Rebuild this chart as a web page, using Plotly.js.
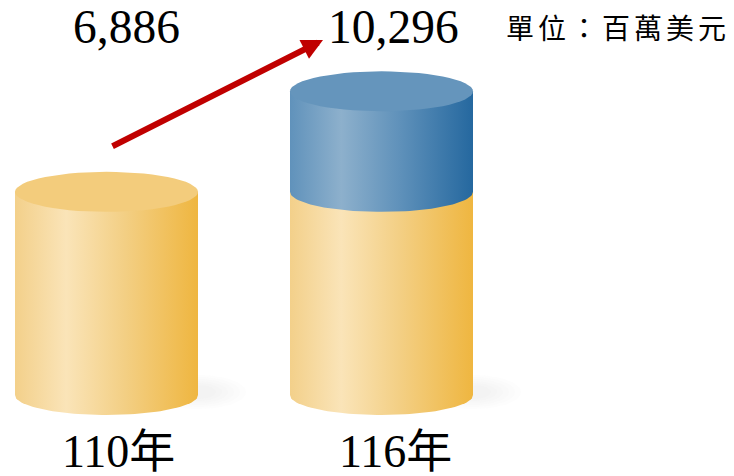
<!DOCTYPE html>
<html>
<head>
<meta charset="utf-8">
<script src="https://cdn.plot.ly/plotly-3.0.1.min.js"></script>
<style>
html,body{margin:0;padding:0;background:#fff}
g.annotation[data-index="4"] text{letter-spacing:4px}
</style>
</head>
<body>
<div id="chart" style="width:734px;height:476px"></div>
<script>
// Data
const categories = ['110年', '116年'];
const existing = [6886, 6886];
const added = [0, 3410];
const totals = [6886, 10296];
const unitLabel = '單位：百萬美元';

// Layout helpers (pixel-aligned axes)
const W = 734, H = 476, baseY = 395, pxPerUnit = 0.0295;
const yAt = px => (baseY - px) / pxPerUnit;
const ry = 20 / pxPerUnit, rx = 91.5;
const centers = [106.5, 381.5];
const labelX = [118, 395];
const labelY = [451, 451];
const SERIF = '"Liberation Serif","Noto Sans CJK TC",serif';

const yellowScale = [[0,'#F3D08A'],[0.28,'#FAE4B8'],[0.6,'#F3CF84'],[1,'#EFB640']];
const blueScale = [[0,'#6092BB'],[0.28,'#8DB0CC'],[0.6,'#5F91BA'],[1,'#25689F']];

function arc(cx, cyVal, fromDeg, toDeg) {
  const xs = [], ys = [];
  const n = 60;
  for (let i = 0; i <= n; i++) {
    const t = (fromDeg + (toDeg - fromDeg) * i / n) * Math.PI / 180;
    xs.push(cx + rx * Math.cos(t));
    ys.push(cyVal + ry * Math.sin(t));
  }
  return [xs, ys];
}
function body(cx, v0, v1, scale) {
  const [xs, ys] = arc(cx, v0, 180, 360);
  xs.push(cx + rx, cx - rx, cx - rx);
  ys.push(v1, v1, v0);
  return {x: xs, y: ys, mode: 'lines', fill: 'toself', line: {width: 0},
    fillgradient: {type: 'horizontal', colorscale: scale}, hoverinfo: 'skip', showlegend: false};
}
function cap(cx, v, color) {
  const [xs, ys] = arc(cx, v, 0, 360);
  return {x: xs, y: ys, mode: 'lines', fill: 'toself', fillcolor: color, line: {width: 0},
    hoverinfo: 'skip', showlegend: false};
}
// Soft ground shadow: nested faint ellipses to the right of each cylinder
function shadows(cx) {
  const out = [];
  [[48, 17], [42, 15], [36, 13], [30, 11], [24, 9], [18, 7]].forEach(([srx, srPx]) => {
    const sx = cx + rx, sry = srPx / pxPerUnit, cy = yAt(392);
    const xs = [], ys = [];
    for (let i = 0; i <= 60; i++) {
      const t = i / 60 * 2 * Math.PI;
      xs.push(sx + srx * Math.cos(t));
      ys.push(cy + sry * Math.sin(t));
    }
    out.push({x: xs, y: ys, mode: 'lines', fill: 'toself', fillcolor: 'rgba(130,130,130,0.018)', line: {width: 0},
      hoverinfo: 'skip', showlegend: false});
  });
  return out;
}

const traces = [];
categories.forEach((c, i) => {
  traces.push(...shadows(centers[i]));
  traces.push(body(centers[i], 0, existing[i], yellowScale));
  if (added[i] > 0) {
    traces.push(body(centers[i], existing[i], existing[i] + added[i], blueScale));
    traces.push(cap(centers[i], existing[i] + added[i], '#6595BC'));
  } else {
    traces.push(cap(centers[i], existing[i], '#F3CC7C'));
  }
});

const annotations = [];
categories.forEach((c, i) => {
  annotations.push({x: labelX[i], y: yAt(labelY[i]), xref: 'x', yref: 'y', text: c, showarrow: false,
    font: {family: SERIF, size: 46, color: '#000'}, xanchor: 'center', yanchor: 'middle'});
});
[126.5, 393.5].forEach((x, i) => {
  annotations.push({x: x, y: yAt(27), xref: 'x', yref: 'y', text: totals[i].toLocaleString('en-US'), showarrow: false,
    font: {family: SERIF, size: 47.5, color: '#000'}, xanchor: 'center', yanchor: 'middle'});
});
annotations.push({x: 617.5, y: yAt(27), xref: 'x', yref: 'y', text: unitLabel, showarrow: false,
  font: {family: '"Noto Sans CJK TC",serif', size: 28, color: '#000'}, xanchor: 'center', yanchor: 'middle'});
annotations.push({x: 323, y: yAt(40), xref: 'x', yref: 'y', ax: 111, ay: yAt(147), axref: 'x', ayref: 'y',
  text: '', showarrow: true, arrowhead: 2, arrowsize: 0.7, arrowwidth: 6, arrowcolor: '#C00000', standoff: 0});

const layout = {
  width: W, height: H,
  margin: {l: 0, r: 0, t: 0, b: 0},
  paper_bgcolor: '#fff', plot_bgcolor: '#fff',
  xaxis: {range: [0, W], visible: false, fixedrange: true},
  yaxis: {range: [yAt(H), yAt(0)], visible: false, fixedrange: true},
  showlegend: false,
  annotations: annotations
};
Plotly.newPlot('chart', traces, layout, {displayModeBar: false, staticPlot: true});
</script>
</body>
</html>
